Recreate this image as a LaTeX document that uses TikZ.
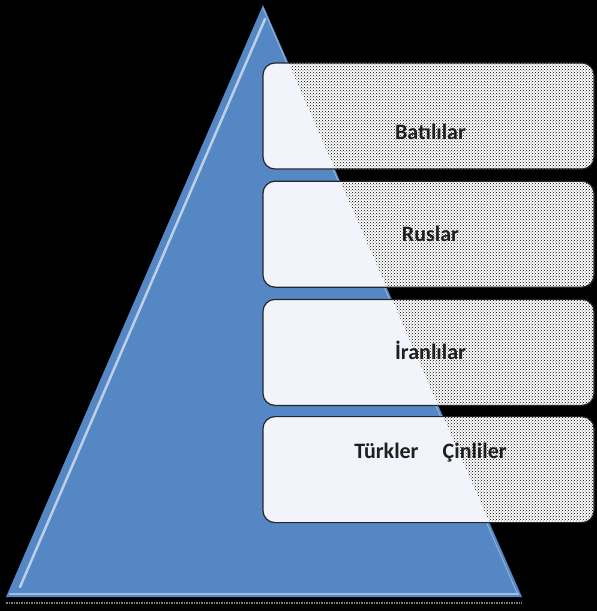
\documentclass[tikz,border=0pt]{standalone}
\usepackage{fontspec}
\setmainfont{Carlito}
\usetikzlibrary{positioning,patterns}
\definecolor{piramit}{RGB}{84,135,196}
\definecolor{acik}{RGB}{241,245,251}
\tikzset{
node distance=11pt,
kutu/.style={rounded corners=12pt,draw=black!85,line width=1.2pt,minimum width=331pt,minimum height=106pt,
  preaction={fill=white},pattern=crosshatch dots,pattern color=black,
  path picture={\fill[acik] (tepe) -- (sol) -- (sag) -- cycle;}},
yazi/.style={font=\fontsize{22}{26}\selectfont\bfseries,text=black!88}}

\begin{document}
\begin{tikzpicture}[x=1pt,y=-1pt]

\fill[black] (0,0) rectangle (597,611);
\useasboundingbox (0,0) rectangle (597,611);

\coordinate (tepe) at (263,5);
\coordinate (sol) at (6,597);
\coordinate (sag) at (522,597);

% piramit
\fill[piramit] (tepe) -- (sol) -- (sag) -- cycle;
\draw[white!60!piramit,line width=2.5pt,line cap=round] ([shift={(2,14)}]tepe) -- ([shift={(14,-10)}]sol);
\draw[white!35!piramit,line width=1pt] ([shift={(0,3)}]tepe) -- ([shift={(-4,-2)}]sag);
\draw[white!45!piramit,line width=2pt] ([shift={(3,-3)}]sol) -- ([shift={(-3,-3)}]sag);
\draw[gray,densely dotted,line width=1.5pt] ([shift={(0,6)}]sol) -- ([shift={(0,6)}]sag);

% kutular
\node[kutu] (kutu1) at (428.5,116) {};
\node[kutu,below=of kutu1] (kutu2) {};
\node[kutu,below=of kutu2] (kutu3) {};
\node[kutu,below=10pt of kutu3] (kutu4) {};

\node[yazi] (yazi1) at ([shift={(2,16)}]kutu1.center) {Batılılar};
\node[yazi] (yazi2) at ([shift={(2,0)}]kutu2.center) {Ruslar};
\node[yazi] (yazi3) at ([shift={(2,-2)}]kutu3.center) {İranlılar};
\node[yazi] (yazi4) at ([shift={(2,-17)}]kutu4.center) {Türkler\hspace{1.1em}Çinliler};

\end{tikzpicture}
\end{document}
